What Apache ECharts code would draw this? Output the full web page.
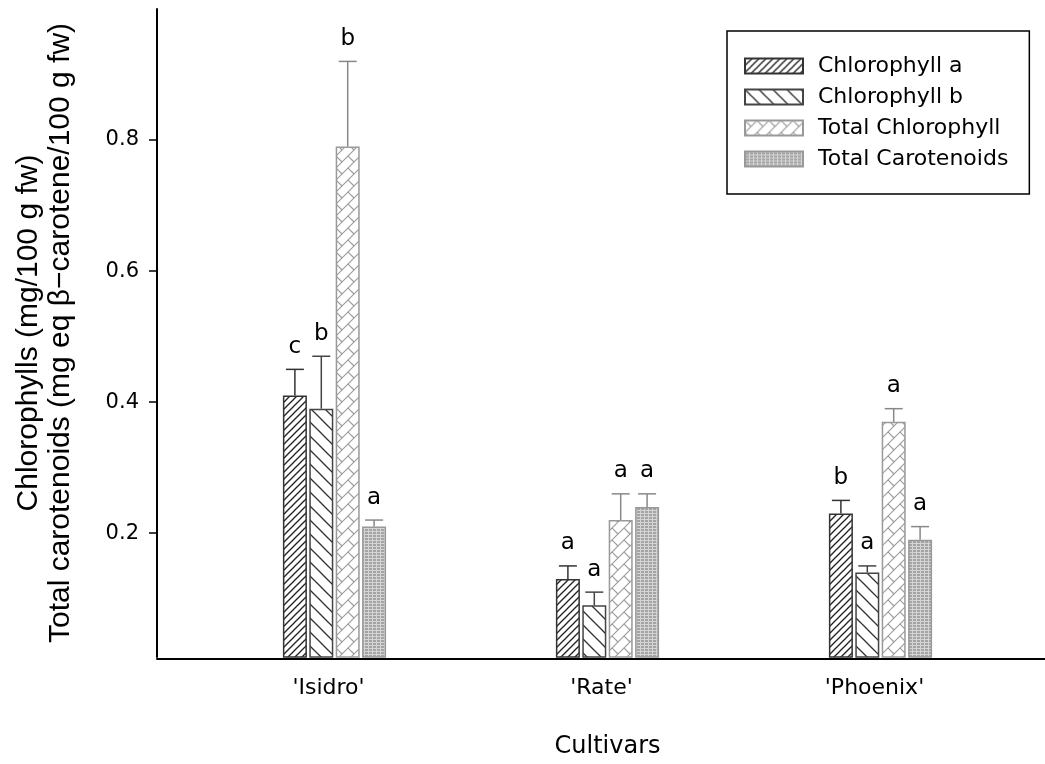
<!DOCTYPE html>
<html>
<head>
<meta charset="utf-8">
<script src="https://cdn.jsdelivr.net/npm/echarts@6/dist/echarts.min.js"></script>
<style>
html,body{margin:0;padding:0;background:#fff;}
#chart{width:1045px;height:764px;}
</style>
</head>
<body>
<div id="chart"></div>
<script>
// ---- data ----
const categories = ["'Isidro'", "'Rate'", "'Phoenix'"];
const seriesNames = ['Chlorophyll a', 'Chlorophyll b', 'Total Chlorophyll', 'Total Carotenoids'];
const chlA = [0.41, 0.13, 0.23];
const chlB = [0.39, 0.09, 0.14];
const totChl = [0.79, 0.22, 0.37];
const totCar = [0.21, 0.24, 0.19];
const errA = [0.04, 0.02, 0.02];
const errB = [0.08, 0.02, 0.01];
const errTot = [0.13, 0.04, 0.02];
const errCar = [0.01, 0.02, 0.02];
const lettersA = ['c', 'a', 'b'];
const lettersB = ['b', 'a', 'a'];
const lettersTot = ['b', 'a', 'a'];
const lettersCar = ['a', 'a', 'a'];
const yTicks = [0.2, 0.4, 0.6, 0.8];
const yMin = 0.011, yMax = 1.0;

// ---- styles ----
const FONT = 'DejaVu Sans';
const BAR_W = 24, GAP_FR = 0.1;

function pat(w, h, draw) {
  const c = document.createElement('canvas');
  c.width = w; c.height = h;
  const g = c.getContext('2d');
  draw(g, w, h);
  return { image: c, repeat: 'repeat' };
}
function seg(g, x1, y1, x2, y2) { g.beginPath(); g.moveTo(x1, y1); g.lineTo(x2, y2); g.stroke(); }

const patA = pat(7, 7, (g, w, h) => {
  g.fillStyle = '#fff'; g.fillRect(0, 0, w, h);
  g.strokeStyle = '#222'; g.lineWidth = 1.3;
  seg(g, -1, h + 1, w + 1, -1); seg(g, -2, 2, 2, -2); seg(g, w - 2, h + 2, w + 2, h - 2);
});
const patB = pat(14, 14, (g, w, h) => {
  g.fillStyle = '#fff'; g.fillRect(0, 0, w, h);
  g.strokeStyle = '#333'; g.lineWidth = 1.3;
  seg(g, -1, -1, w + 1, h + 1); seg(g, -2, h - 2, 2, h + 2); seg(g, w - 2, -2, w + 2, 2);
});
const patTot = pat(12, 12, (g, w, h) => {
  g.fillStyle = '#fff'; g.fillRect(0, 0, w, h);
  g.strokeStyle = '#9a9a9a'; g.lineWidth = 1.1;
  seg(g, -1, h + 1, w + 1, -1); seg(g, -2, 2, 2, -2); seg(g, w - 2, h + 2, w + 2, h - 2);
  seg(g, 0, 0, w / 2, h / 2);
});
const patCar = pat(4, 3, (g, w, h) => {
  g.fillStyle = '#a4a4a4'; g.fillRect(0, 0, w, h);
  g.fillStyle = '#d4d4d4'; g.fillRect(0, 0, 1, h); g.fillRect(0, 0, w, 1);
});

const fills = [patA, patB, patTot, patCar];
const borders = ['#333', '#444', '#999', '#999'];
const errColors = ['#333', '#444', '#888', '#888'];
const values = [chlA, chlB, totChl, totCar];
const errs = [errA, errB, errTot, errCar];
const letters = [lettersA, lettersB, lettersTot, lettersCar];

const barSeries = seriesNames.map((name, si) => ({
  name, type: 'bar', xAxisIndex: 0, yAxisIndex: 0,
  barWidth: BAR_W, barGap: (GAP_FR * 100) + '%',
  data: values[si],
  itemStyle: { color: fills[si], borderColor: borders[si], borderWidth: 1.5 },
  z: 2
}));

const errSeries = seriesNames.map((name, si) => ({
  type: 'custom', xAxisIndex: 0, yAxisIndex: 0, z: 3,
  data: categories.map((c, i) => [i, values[si][i], values[si][i] + errs[si][i], letters[si][i]]),
  renderItem: (params, api) => {
    const ci = api.value(0);
    const base = api.coord([ci, api.value(1)]);
    const top = api.coord([ci, api.value(2)]);
    const cx = base[0] + (si - 1.5) * BAR_W * (1 + GAP_FR);
    const st = { stroke: errColors[si], lineWidth: 1.5 };
    return {
      type: 'group', children: [
        { type: 'line', shape: { x1: cx, y1: base[1], x2: cx, y2: top[1] }, style: st },
        { type: 'line', shape: { x1: cx - 9, y1: top[1], x2: cx + 9, y2: top[1] }, style: st },
        { type: 'text', x: cx, y: top[1] - 11, style: { text: letters[si][params.dataIndex], fill: '#000', font: '23px "' + FONT + '"', align: 'center', verticalAlign: 'bottom' } }
      ]
    };
  }
}));

const chart = echarts.init(document.getElementById('chart'), null, { renderer: 'canvas' });
chart.setOption({
  animation: false,
  backgroundColor: '#fff',
  grid: [
    { left: 198, right: 28, top: 9, bottom: 105 },
    { left: 157, right: 0, top: 9, bottom: 105 }
  ],
  legend: {
    data: seriesNames, orient: 'vertical', left: 727, top: 31,
    itemWidth: 58, itemHeight: 15, itemGap: 9,
    padding: [24, 21, 24, 17],
    borderColor: '#000', borderWidth: 1.5,
    icon: 'rect',
    textStyle: { fontFamily: FONT, fontSize: 22, color: '#000', padding: [0, 0, 0, 10] }
  },
  xAxis: [
    {
      type: 'category', gridIndex: 0, data: categories, z: 5,
      axisLine: { show: false },
      axisTick: { show: true, inside: true, length: 2, lineStyle: { color: '#fff', width: 1 } },
      axisLabel: { fontFamily: FONT, fontSize: 22, color: '#000', margin: 20, padding: [0, 12, 0, 0] },
      name: 'Cultivars', nameLocation: 'middle', nameGap: 78,
      nameTextStyle: { fontFamily: FONT, fontSize: 24, color: '#000' }
    },
    {
      type: 'value', gridIndex: 1, min: 0, max: 1,
      axisLine: { show: true, lineStyle: { color: '#000', width: 2 } },
      axisTick: { show: false }, axisLabel: { show: false }, splitLine: { show: false }
    }
  ],
  yAxis: [
    {
      type: 'value', gridIndex: 0, min: yMin, max: yMax, offset: 41,
      axisLine: { show: true, lineStyle: { color: '#000', width: 2 } },
      axisTick: { show: true, length: 8, customValues: yTicks, lineStyle: { color: '#000', width: 1.5 } },
      axisLabel: { customValues: yTicks, fontFamily: FONT, fontSize: 21, color: '#000', margin: 18 },
      splitLine: { show: false },
      name: 'Chlorophylls (mg/100 g fw)\nTotal carotenoids (mg eq β\u2212carotene/100 g fw)',
      nameLocation: 'middle', nameGap: 80,
      nameTextStyle: { fontFamily: 'Liberation Sans', fontSize: 30, lineHeight: 32, color: '#000' }
    },
    { type: 'value', gridIndex: 1, min: 0, max: 1, show: false }
  ],
  series: [...barSeries, ...errSeries]
});
</script>
</body>
</html>
